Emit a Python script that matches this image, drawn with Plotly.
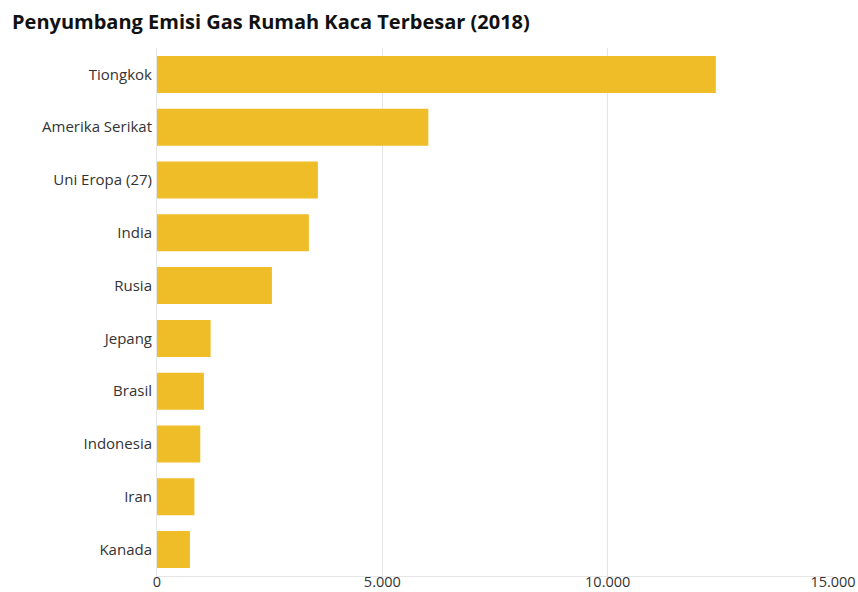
import plotly.graph_objects as go

countries = ["Tiongkok", "Amerika Serikat", "Uni Eropa (27)", "India", "Rusia",
             "Jepang", "Brasil", "Indonesia", "Iran", "Kanada"]
emissions = [12400, 6020, 3570, 3370, 2550, 1190, 1040, 960, 830, 730]
x_ticks = [0, 5000, 10000, 15000]

fig = go.Figure(go.Bar(
    x=emissions, y=countries, orientation="h",
    marker=dict(color="#EFBD27", line=dict(width=0)),
))

fig.update_layout(
    width=858, height=592,
    margin=dict(l=157, r=25, t=48, b=16, autoexpand=False),
    paper_bgcolor="white", plot_bgcolor="white",
    separators=",.",
    bargap=0.3,
    showlegend=False,
    title=dict(text="<b>Penyumbang Emisi Gas Rumah Kaca Terbesar (2018)</b>",
               x=0.014, xanchor="left", y=0.962, yanchor="middle",
               font=dict(family="Open Sans", size=20, color="#111")),
    font=dict(family="Open Sans", size=15, color="#333"),
)
fig.update_xaxes(range=[0, 15000], tickvals=x_ticks, tickformat=",d",
                 showgrid=True, gridcolor="#e6e6e6", gridwidth=1,
                 zeroline=False, showline=True, linecolor="#e6e6e6",
                 ticks="", tickfont=dict(size=14.5, color="#333"),
                 ticklabelstandoff=-7,
                 automargin=False, fixedrange=True)
fig.update_yaxes(autorange="reversed", showgrid=False, showline=True,
                 linecolor="#e6e6e6", ticks="", ticklabelstandoff=1,
                 tickfont=dict(size=15, color="#333"), automargin=False)

fig.write_html("out.html")
